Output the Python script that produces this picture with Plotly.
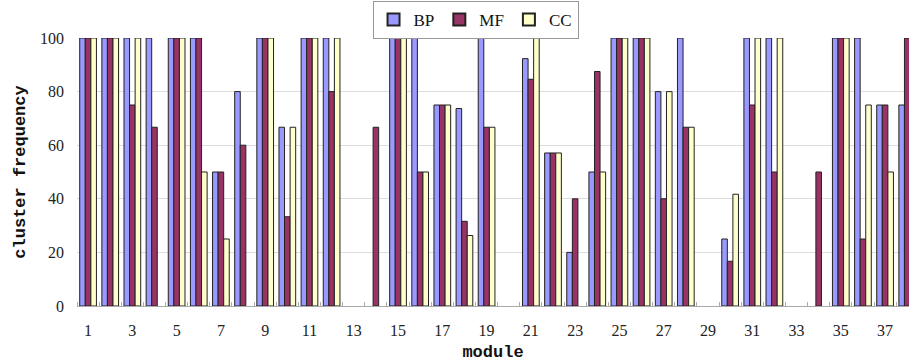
import plotly.graph_objects as go

modules = list(range(1, 39))
bp = [100, 100, 100, 100, 100, 100, 50, 80, 100, 66.7, 100, 100, 0, 0, 100, 100, 75, 73.7, 100, 0,
      92.3, 57.1, 20, 50, 100, 100, 80, 100, 0, 25, 100, 100, 0, 0, 100, 100, 75, 75]
mf = [100, 100, 75, 66.7, 100, 100, 50, 60, 100, 33.3, 100, 80, 0, 66.7, 100, 50, 75, 31.6, 66.7, 0,
      84.6, 57.1, 40, 87.5, 100, 100, 40, 66.7, 0, 16.7, 75, 50, 0, 50, 100, 25, 75, 100]
cc = [100, 100, 100, 0, 100, 50, 25, 0, 100, 66.7, 100, 100, 0, 0, 100, 50, 75, 26.3, 66.7, 0,
      100, 57.1, 0, 50, 100, 100, 80, 66.7, 0, 41.7, 100, 100, 0, 0, 100, 75, 50, None]
x_ticks = list(range(1, 39, 2))

series = [("BP", bp, "#9999FF"), ("MF", mf, "#993366"), ("CC", cc, "#FFFFCC")]

fig = go.Figure()
for name, vals, col in series:
    widths = [1 if (v is not None and v > 0) else 0 for v in vals]
    fig.add_trace(go.Bar(x=modules, y=vals, name=name,
                         marker=dict(color=col, line=dict(color="#222222", width=widths))))

serif = "Liberation Serif"
mono = "Liberation Mono"
fig.update_layout(
    width=909, height=363,
    margin=dict(l=77, r=0, t=38, b=57),
    paper_bgcolor="white", plot_bgcolor="white",
    barmode="group", bargap=0.245, bargroupgap=0,
    showlegend=True,
    legend=dict(orientation="h", x=0.479, xanchor="center", y=1.138, yanchor="top",
                font=dict(family=serif, size=17, color="#111111"),
                bordercolor="#999999", borderwidth=1, bgcolor="white",
                itemwidth=30, tracegroupgap=0, itemsizing="constant"),
    xaxis=dict(range=[0.5, 38.08], tickmode="array", tickvals=x_ticks, ticktext=[str(v) for v in x_ticks],
               showgrid=False, zeroline=False, showline=True, linecolor="#aaaaaa", linewidth=1,
               ticks="", ticklabelstandoff=10, tickfont=dict(family=serif, size=16, color="#222222"),
               minor=dict(tickmode="linear", tick0=0.5, dtick=1, ticks="inside", ticklen=4, tickcolor="#aaaaaa", showgrid=False),
               title=dict(text="module", font=dict(family=mono, size=17, color="#111111", weight="bold"), standoff=6)),
    yaxis=dict(range=[0, 100], tickmode="array", tickvals=[0, 20, 40, 60, 80, 100],
               showgrid=True, gridcolor="#dddddd", gridwidth=1, zeroline=False, showline=False,
               ticks="", ticklabelstandoff=12, tickfont=dict(family=serif, size=16, color="#222222"),
               title=dict(text="cluster frequency", font=dict(family=mono, size=17, color="#111111", weight="bold"), standoff=10)),
    font=dict(family=serif),
)

fig.write_html("out.html")
